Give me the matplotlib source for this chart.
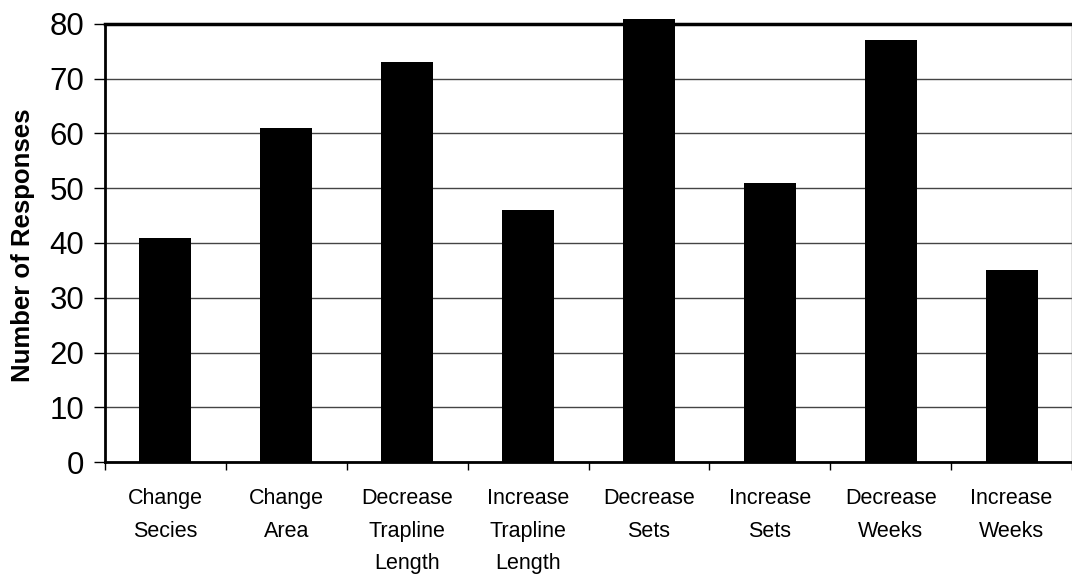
import numpy as np
import matplotlib
matplotlib.use("Agg")
import matplotlib.pyplot as plt

# survey answers
categories = ["Change\nSecies", "Change\nArea", "Decrease\nTrapline\nLength",
              "Increase\nTrapline\nLength", "Decrease\nSets", "Increase\nSets",
              "Decrease\nWeeks", "Increase\nWeeks"]
responses = [41, 61, 73, 46, 81, 51, 77, 35]
y_ticks = [0, 10, 20, 30, 40, 50, 60, 70, 80]

plt.rcParams['font.family'] = ['Liberation Sans', 'DejaVu Sans']

fig = plt.figure(figsize=(10.72, 5.75), dpi=100)
ax = fig.add_axes([105 / 1072, 1 - 462 / 575, 967 / 1072, 438 / 575])

x = np.arange(len(categories))
bars = ax.bar(x, responses, width=0.43, color='black', zorder=3)
for b in bars:
    b.set_clip_on(False)  # "Decrease Sets" pokes over the top line

ax.set_xlim(-0.5, len(categories) - 0.5)
ax.set_ylim(0, 80)
ax.set_yticks(y_ticks)
ax.tick_params(axis='y', labelsize=22.5, length=8, width=1, pad=7, direction='out')

# category ticks sit on the boundaries, labels in the middle
ax.set_xticks(np.arange(len(categories) + 1) - 0.5)
ax.set_xticklabels([])
ax.set_xticks(x, minor=True)
ax.set_xticklabels(categories, minor=True, fontsize=15.5, linespacing=1.72)
ax.tick_params(axis='x', which='major', length=6, width=1, direction='out')
ax.tick_params(axis='x', which='minor', length=0, pad=19)

ax.yaxis.grid(True, color='#444444', linewidth=1.0, zorder=0)
ax.set_axisbelow(True)

for side in ['left', 'bottom']:
    ax.spines[side].set_linewidth(2)
    ax.spines[side].set_color('black')
ax.spines['top'].set_linewidth(2.5)
ax.spines['top'].set_color('black')
ax.spines['right'].set_linewidth(1)
ax.spines['right'].set_color('#777777')

fig.text(23 / 1072, 1 - 245 / 575, "Number of Responses", rotation=90,
         fontsize=18.5, fontweight='bold', ha='center', va='center')

fig.savefig("out.png", dpi=100)
